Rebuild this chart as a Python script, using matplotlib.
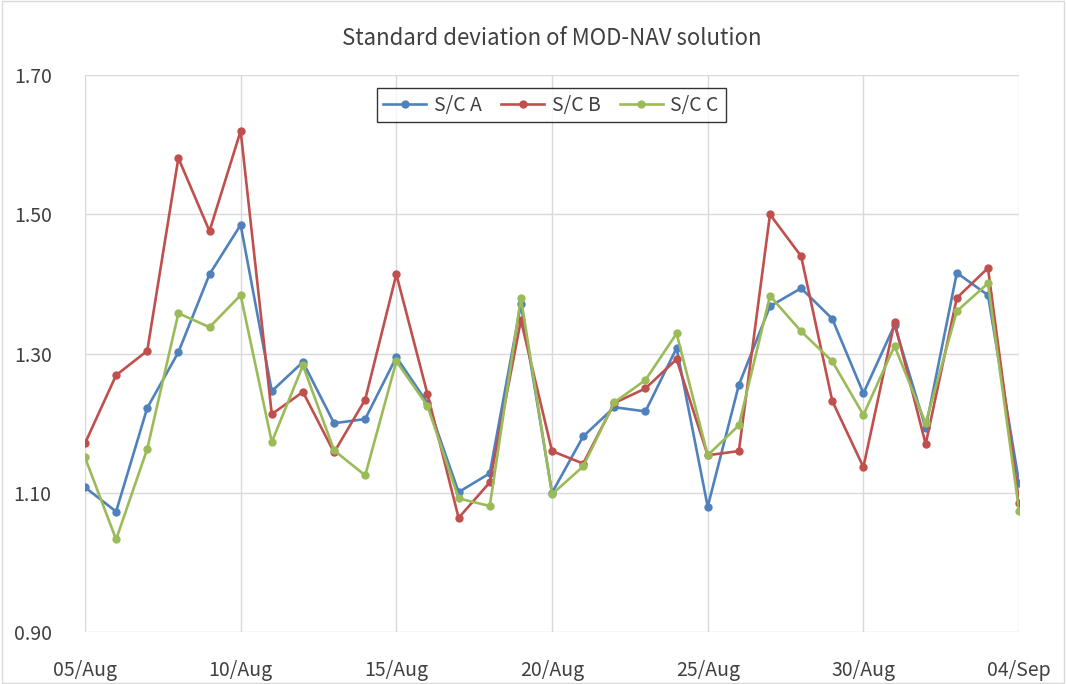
import datetime as dt
import matplotlib
matplotlib.use("Agg")
import matplotlib.pyplot as plt
import matplotlib.dates as mdates
from matplotlib.patches import Rectangle

plt.rcParams['font.family'] = ['Noto Sans CJK KR', 'DejaVu Sans']

# one value per day, 05/Aug .. 04/Sep
start = dt.date(2013, 8, 5)
days = [start + dt.timedelta(days=i) for i in range(31)]

sc_a = [1.108, 1.073, 1.222, 1.302, 1.414, 1.485, 1.246, 1.288, 1.200, 1.206,
        1.295, 1.229, 1.101, 1.128, 1.371, 1.100, 1.181, 1.223, 1.217, 1.308,
        1.080, 1.255, 1.368, 1.394, 1.350, 1.243, 1.341, 1.193, 1.416, 1.384,
        1.114]
sc_b = [1.171, 1.269, 1.304, 1.581, 1.476, 1.620, 1.213, 1.245, 1.158, 1.234,
        1.414, 1.242, 1.064, 1.115, 1.348, 1.160, 1.142, 1.229, 1.250, 1.292,
        1.154, 1.160, 1.500, 1.440, 1.232, 1.137, 1.345, 1.170, 1.380, 1.423,
        1.085]
sc_c = [1.151, 1.033, 1.163, 1.358, 1.338, 1.384, 1.173, 1.283, 1.161, 1.125,
        1.289, 1.225, 1.092, 1.081, 1.380, 1.098, 1.138, 1.230, 1.262, 1.329,
        1.154, 1.197, 1.383, 1.332, 1.289, 1.212, 1.311, 1.200, 1.361, 1.401,
        1.074]

series = [("S/C A", sc_a, "#4F81BD"),
          ("S/C B", sc_b, "#C0504D"),
          ("S/C C", sc_c, "#9BBB59")]

fig = plt.figure(figsize=(10.66, 6.84), dpi=100)
ax = fig.add_axes([0.0797, 0.076, 0.8763, 0.814])

for name, vals, col in series:
    ax.plot(days, vals, color=col, lw=1.9, marker='o', markersize=5,
            label=name)

ax.set_ylim(0.9, 1.7)
ax.set_yticks([0.9, 1.1, 1.3, 1.5, 1.7])
ax.set_yticklabels(["%.2f" % v for v in [0.9, 1.1, 1.3, 1.5, 1.7]])
ax.set_xlim(days[0], days[-1])
ax.set_xticks(days[::5])
ax.xaxis.set_major_formatter(mdates.DateFormatter("%d/%b"))

ax.grid(True, color="#D9D9D9", lw=1)
ax.set_axisbelow(True)
for s in ax.spines.values():
    s.set_visible(False)
ax.tick_params(length=0, labelsize=14, colors="#404040")
ax.tick_params(axis='x', pad=20)
ax.tick_params(axis='y', pad=24)

ax.set_title("Standard deviation of MOD-NAV solution", fontsize=16,
             color="#404040", pad=22)

leg = ax.legend(loc="upper center", bbox_to_anchor=(0.499, 0.995), ncol=3,
                fontsize=14, frameon=True, fancybox=False, handlelength=2.2,
                columnspacing=1.0, handletextpad=0.4, borderpad=0.35)
leg.get_frame().set_edgecolor("black")
leg.get_frame().set_linewidth(1.0)
for t in leg.get_texts():
    t.set_color("#404040")

fig.patches.append(Rectangle((0.002, 0.002), 0.996, 0.996,
                             transform=fig.transFigure, fill=False,
                             edgecolor="#D9D9D9", lw=1))

fig.savefig("out.png", dpi=100)
